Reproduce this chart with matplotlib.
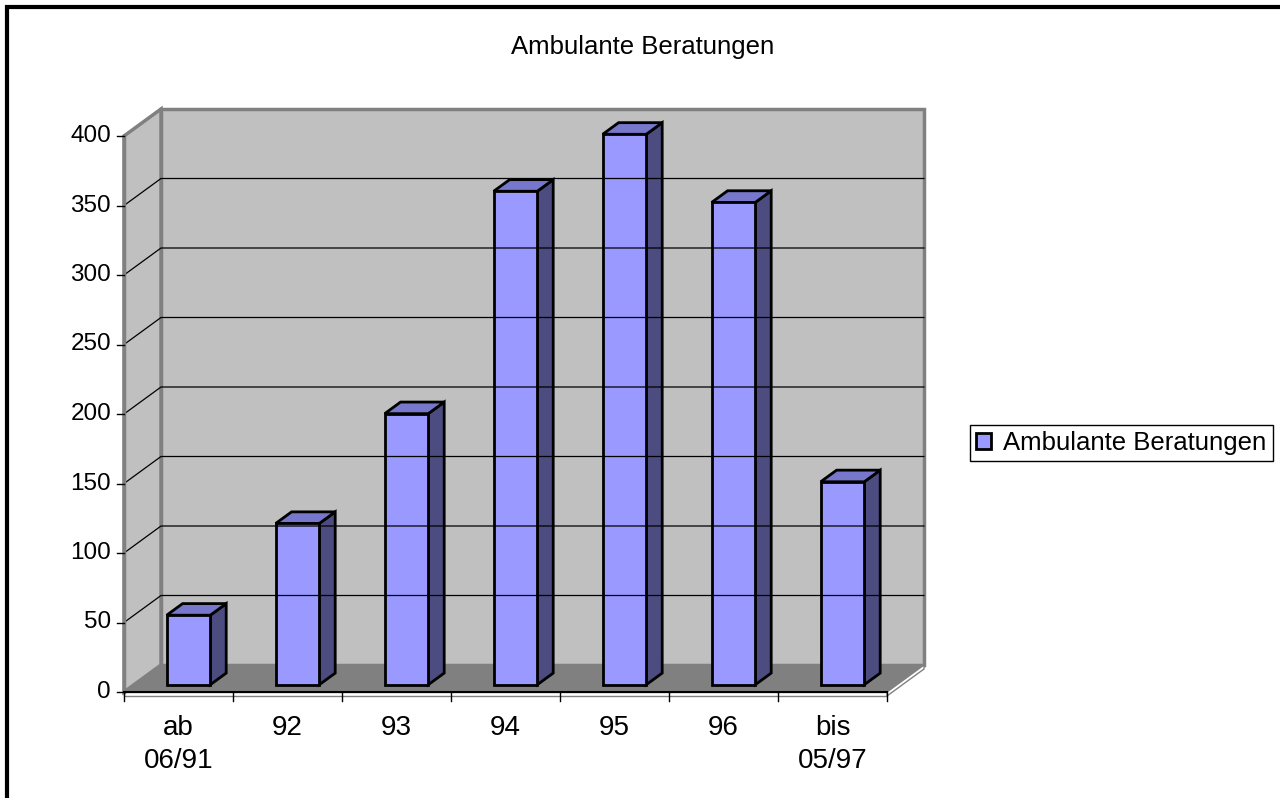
import matplotlib.pyplot as plt
from matplotlib.patches import Polygon, Rectangle

plt.rcParams['font.family'] = ['Liberation Sans', 'DejaVu Sans']

title = 'Ambulante Beratungen'
categories = ['ab\n06/91', '92', '93', '94', '95', '96', 'bis\n05/97']
values = [50, 116, 195, 355, 396, 347, 146]
yticks = [0, 50, 100, 150, 200, 250, 300, 350, 400]

W, H = 1280, 798
fig = plt.figure(figsize=(W / 100, H / 100), dpi=100)
ax = fig.add_axes([0, 0, 1, 1])
ax.axis('off')

# front plane of the 3d box in pixels
x0_px, cat_px = 124, 109
y0_px, unit_px = 692, 69.5 / 50
ax.set_xlim(-x0_px / cat_px, (W - x0_px) / cat_px)
ax.set_ylim((y0_px - H) / unit_px, y0_px / unit_px)

n = len(categories)
ymax = yticks[-1]
dx, dy = 37 / cat_px, 27 / unit_px  # depth of the box


def poly(pts, **kw):
    ax.add_patch(Polygon(pts, closed=True, **kw))


wall = '#c0c0c0'
edge = '#808080'

# back wall and side wall
poly([(dx, dy), (n + dx, dy), (n + dx, ymax + dy), (dx, ymax + dy)],
     fc=wall, ec=edge, lw=2.5)
poly([(0, 0), (dx, dy), (dx, ymax + dy), (0, ymax)], fc=wall, ec=edge, lw=2.5)

# gridlines
for v in yticks[1:-1]:
    ax.plot([0, dx, n + dx], [v, v + dy, v + dy], color='black', lw=0.9)

# floor with a thin slab
t = 4 / unit_px
poly([(0, 0), (n, 0), (n + dx, dy), (dx, dy)], fc='#808080', ec='#808080', lw=1)
poly([(0, -t), (n, -t), (n, 0), (0, 0)], fc='white', ec=edge, lw=1)
poly([(n, -t), (n + dx, dy - t), (n + dx, dy), (n, 0)], fc='white', ec=edge, lw=1)

# bars
f1, f2 = 0.27, 0.70
bw = 0.40
front_col, top_col, side_col = '#9999ff', '#7777cc', '#4c4c80'
for i, v in enumerate(values):
    xl = i + (1 - bw) / 2
    xr = xl + bw
    a1, b1 = f1 * dx, f1 * dy
    a2, b2 = f2 * dx, f2 * dy
    kw = dict(ec='black', lw=2, joinstyle='miter')
    poly([(xr + a1, b1), (xr + a2, b2), (xr + a2, v + b2), (xr + a1, v + b1)],
         fc=side_col, **kw)
    poly([(xl + a1, v + b1), (xr + a1, v + b1), (xr + a2, v + b2), (xl + a2, v + b2)],
         fc=top_col, **kw)
    poly([(xl + a1, b1), (xr + a1, b1), (xr + a1, v + b1), (xl + a1, v + b1)],
         fc=front_col, **kw)

# axes lines and ticks
ax.plot([0, 0], [0, ymax], color=edge, lw=2.5)
ax.plot([0, n], [0, 0], color='black', lw=1.5)
for v in yticks:
    ax.plot([-7 / cat_px, 0], [v, v], color='black', lw=1)
    ax.text(-13 / cat_px, v, str(v), ha='right', va='center', fontsize=17.5)
for i in range(n + 1):
    ax.plot([i, i], [0, -9 / unit_px], color='black', lw=1)
for i, c in enumerate(categories):
    ax.text(i + 0.5, -23 / unit_px, c, ha='center', va='top', fontsize=20,
            linespacing=1.35)

fig.text(643 / W, 1 - 47 / H, title, ha='center', va='center', fontsize=18.5)

handle = Rectangle((0, 0), 1, 1, fc=front_col, ec='black', lw=2)
leg = fig.legend([handle], [title], loc='center left',
                 bbox_to_anchor=(970 / W, 1 - 443 / H), fontsize=18.5,
                 frameon=True, fancybox=False, edgecolor='black', framealpha=1,
                 handlelength=0.55, handleheight=0.55, handletextpad=0.5,
                 borderpad=0.25, borderaxespad=0)
leg.get_frame().set_linewidth(1)

fig.add_artist(Rectangle((7 / W, -0.1), 1.2, 1 - 7 / H + 0.1,
                         transform=fig.transFigure, fill=False, ec='black', lw=3))

fig.savefig('out.png', dpi=100)
